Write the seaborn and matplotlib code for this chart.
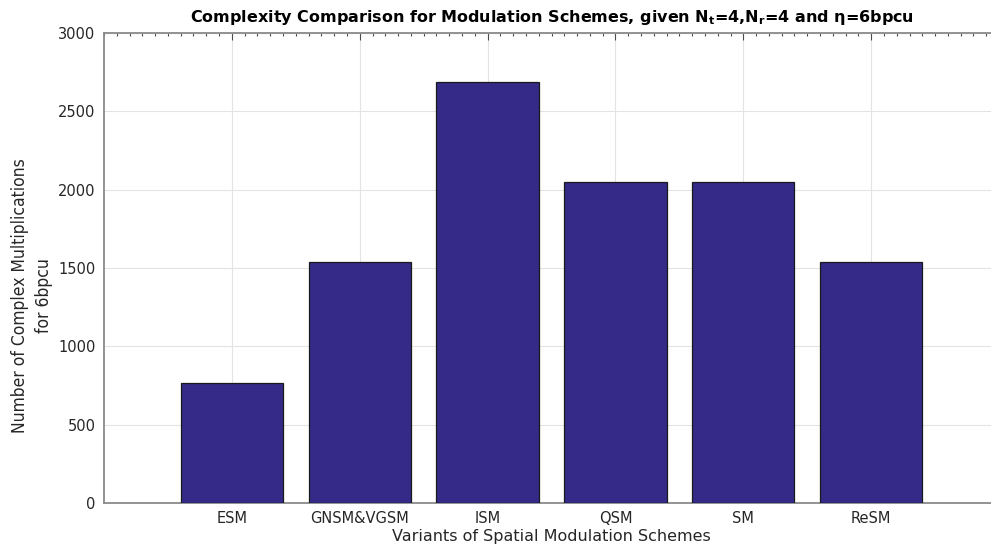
import matplotlib
matplotlib.use("Agg")
import matplotlib.pyplot as plt
import seaborn as sns
import pandas as pd
import numpy as np
from matplotlib.ticker import MultipleLocator

schemes = ["ESM", "GNSM&VGSM", "ISM", "QSM", "SM", "ReSM"]
multiplications = [768, 1536, 2688, 2048, 2048, 1536]

df = pd.DataFrame({"scheme": schemes, "mult": multiplications})

sns.set_style("white")
plt.rcParams["font.family"] = ["DejaVu Sans"]

fig = plt.figure(figsize=(9.91, 5.45), dpi=100)
ax = fig.add_axes([104/991, 1-503/545, (999-104)/991, (503-33)/545])

sns.barplot(data=df, x="scheme", y="mult", ax=ax, color="#352a87",
            saturation=1, width=0.8, edgecolor="#1a1a1a", linewidth=0.9, zorder=3)

ax.set_xlim(-1, 6)
ax.set_ylim(0, 3000)
ax.yaxis.set_major_locator(MultipleLocator(500))
ax.yaxis.set_minor_locator(MultipleLocator(100))
ax.xaxis.set_minor_locator(MultipleLocator(0.1))
ax.grid(True, which="major", color="#e3e3e3", linewidth=0.8, zorder=0)
ax.set_axisbelow(True)

for s in ax.spines.values():
    s.set_color("#8a8a8a")
    s.set_linewidth(1.3)
    s.set_visible(True)

ax.tick_params(which="both", direction="in", top=True, right=True, colors="#4a4a4a",
               labelcolor="#262626")
ax.tick_params(which="major", length=5, width=0.8, labelsize=10.5)
ax.tick_params(which="minor", length=2.5, width=0.8)
ax.tick_params(axis="x", which="major", pad=6)
ax.tick_params(axis="y", which="major", pad=6)

ax.set_xlabel("Variants of Spatial Modulation Schemes", fontsize=11.5, color="#262626")
ax.xaxis.set_label_coords(0.5, (503 - 529) / 470)
ax.set_ylabel("Number of Complex Multiplications\nfor 6bpcu", fontsize=12.5, color="#262626",
              fontstretch="condensed", multialignment="center", linespacing=1.45)
ax.yaxis.set_label_coords((53 - 104) / 895, (503 - 296) / 470)
ax.set_title(r"Complexity Comparison for Modulation Schemes, given N$_\mathbf{t}$=4,N$_\mathbf{r}$=4 and η=6bpcu",
             fontsize=11.5, fontweight="bold", color="black", pad=8)

fig.savefig("out.png", dpi=100)
